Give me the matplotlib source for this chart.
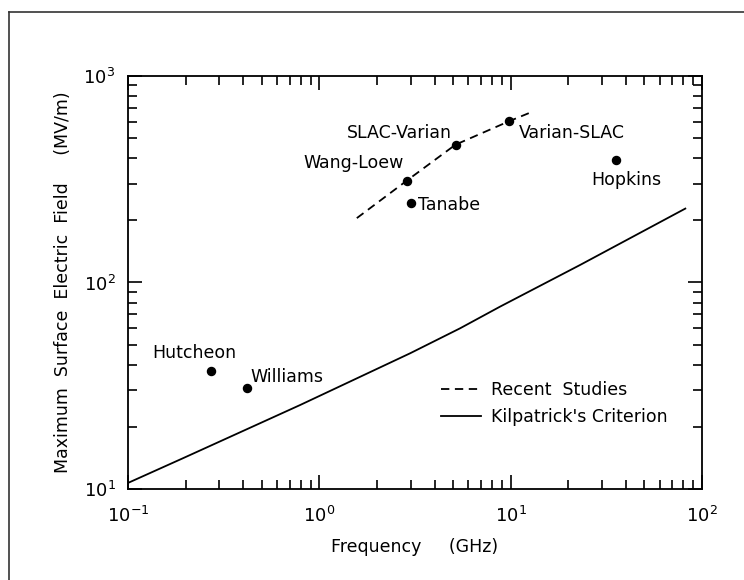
import matplotlib
matplotlib.use('Agg')
import matplotlib.pyplot as plt
from matplotlib.lines import Line2D
from matplotlib.ticker import LogLocator, NullFormatter

plt.rcParams['font.family'] = ['DejaVu Sans']
plt.rcParams['mathtext.default'] = 'regular'
plt.rcParams['lines.scale_dashes'] = False

# ---- data ----
kil_freq = [0.1, 0.194, 0.793, 2.98, 5.44, 8.8, 23.1, 81.8]      # GHz
kil_field = [10.7, 14.1, 25.5, 45.4, 60.0, 76.4, 121.7, 228]     # MV/m
recent_freq = [1.57, 2.86, 5.15, 9.82, 12.6]
recent_field = [205, 311, 465, 604, 664]
names = ['Hutcheon', 'Williams', 'Wang-Loew', 'Tanabe', 'SLAC-Varian', 'Varian-SLAC', 'Hopkins']
pt_freq = [0.27, 0.417, 2.86, 3.03, 5.15, 9.82, 35.7]
pt_field = [37.4, 30.9, 311, 244, 465, 604, 391]

# label placement (pixels offset, alignment)
label_style = {
    'Hutcheon': (-16, 18, 'center'),
    'Williams': (4, 11, 'left'),
    'Wang-Loew': (-3, 18, 'right'),
    'Tanabe': (7, -2, 'left'),
    'SLAC-Varian': (-4, 12, 'right'),
    'Varian-SLAC': (10, -12, 'left'),
    'Hopkins': (10, -20, 'center'),
}

W, H = 744, 580
fig = plt.figure(figsize=(W / 100, H / 100), dpi=100)
ax = fig.add_axes([128 / W, 1 - 489 / H, (702 - 128) / W, (489 - 76) / H])

ax.set_xscale('log')
ax.set_yscale('log')
ax.set_xlim(0.1, 100)
ax.set_ylim(10, 1000)

lw = 1.3
ax.plot(recent_freq, recent_field, color='black', lw=lw, dashes=(6, 4),
        label='Recent  Studies')
ax.plot(kil_freq, kil_field, color='black', lw=lw, label="Kilpatrick's Criterion")
ax.plot(pt_freq, pt_field, 'o', color='black', ms=5.8, ls='none')

for n, f, e in zip(names, pt_freq, pt_field):
    dx, dy, ha = label_style[n]
    ax.annotate(n, (f, e), xytext=(dx, dy), textcoords='offset pixels',
                ha=ha, va='center', fontsize=12.5)

leg = ax.legend(loc='upper left', bbox_to_anchor=(0.545, 0.262), frameon=False,
                fontsize=12.5, handlelength=2.3, handletextpad=0.6,
                labelspacing=0.55, borderpad=0, borderaxespad=0)

for s in ax.spines.values():
    s.set_linewidth(1.3)

ax.xaxis.set_major_locator(LogLocator(base=10, numticks=10))
ax.yaxis.set_major_locator(LogLocator(base=10, numticks=10))
ax.xaxis.set_minor_locator(LogLocator(base=10, subs=range(2, 10), numticks=20))
ax.yaxis.set_minor_locator(LogLocator(base=10, subs=range(2, 10), numticks=20))
ax.xaxis.set_minor_formatter(NullFormatter())
ax.yaxis.set_minor_formatter(NullFormatter())

ax.tick_params(which='both', direction='in', top=True, right=True, width=1.2)
ax.tick_params(which='major', length=10, labelsize=13)
ax.tick_params(which='minor', length=6.5)
ax.tick_params(axis='x', which='major', pad=12)
ax.tick_params(axis='y', which='major', pad=9)

ax.set_xlabel('Frequency     (GHz)', fontsize=12.5)
ax.set_ylabel('Maximum  Surface  Electric  Field     (MV/m)', fontsize=12.5)
ax.xaxis.set_label_coords(0.5, -0.118)
ax.yaxis.set_label_coords(-0.098, 0.5)

# figure border (top and left visible)
fig.add_artist(Line2D([9 / W, 1.0], [1 - 12 / H, 1 - 12 / H], color='#333333', lw=1.2,
                      transform=fig.transFigure))
fig.add_artist(Line2D([9 / W, 9 / W], [0.0, 1 - 12 / H], color='#333333', lw=1.2,
                      transform=fig.transFigure))

fig.savefig('out.png', dpi=100)
